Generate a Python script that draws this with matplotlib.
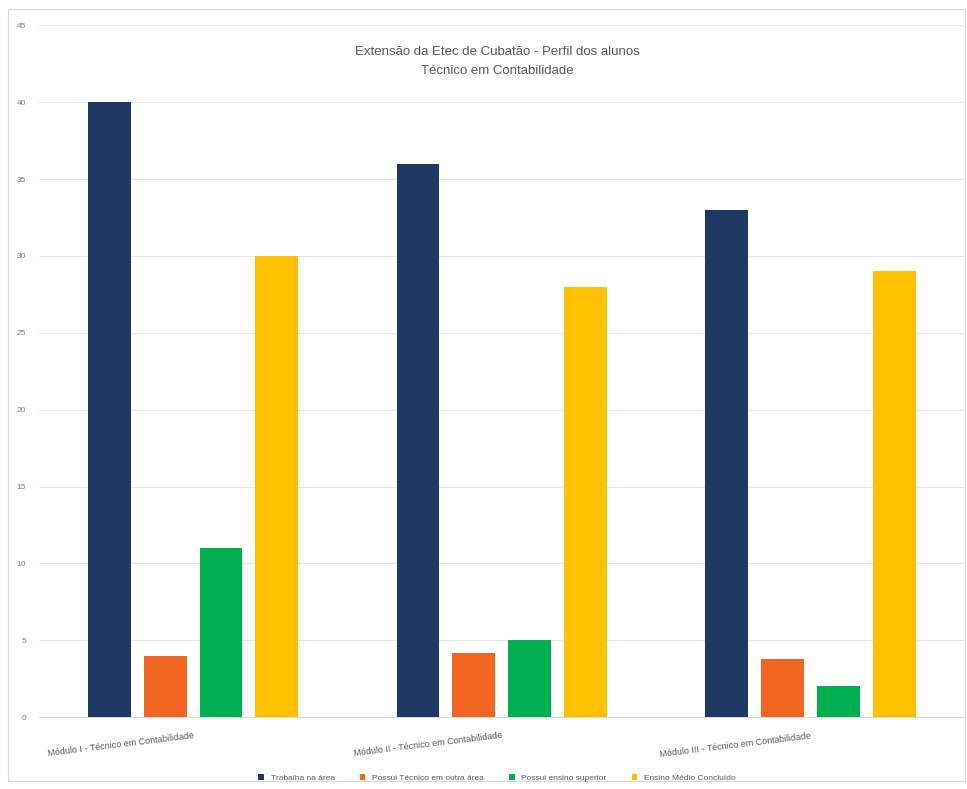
import matplotlib.pyplot as plt
from matplotlib.patches import Rectangle
import numpy as np

plt.rcParams['font.family'] = ['Liberation Sans', 'DejaVu Sans']

categories = ["Módulo I - Técnico em Contabilidade",
              "Módulo II - Técnico em Contabilidade",
              "Módulo III - Técnico em Contabilidade"]
series_names = ["Trabalha na área", "Possui Técnico em outra área",
                "Possui ensino superior", "Ensino Médio Concluído"]
trabalha = [40, 36, 33]
tecnico_outra = [4, 4.2, 3.8]
superior = [11, 5, 2]
ensino_medio = [30, 28, 29]
colors = ["#1F3864", "#F26522", "#00B050", "#FFC000"]

fig = plt.figure(figsize=(9.67, 7.89), dpi=100)
fig.patches.append(Rectangle((0.008, 0.01), 0.99, 0.978, transform=fig.transFigure,
                             fill=False, edgecolor="#d9d9d9", linewidth=0.8))
ax = fig.add_axes([0.040, 0.091, 0.958, 0.877])

x = np.arange(len(categories))
width = 0.139
pitch = 0.181
for i, (vals, name) in enumerate(zip([trabalha, tecnico_outra, superior, ensino_medio], series_names)):
    ax.bar(x + (i - 1.5) * pitch, vals, width, color=colors[i], label=name, zorder=3)

ax.set_xlim(-0.50, 2.50)
ax.set_ylim(0, 45)
ax.set_yticks(range(0, 46, 5))
ax.tick_params(axis='y', labelsize=6, colors="#7f7f7f", length=0, pad=9)
ax.grid(axis='y', color="#e6e6e6", linewidth=0.8, zorder=0)
for s in ax.spines.values():
    s.set_visible(False)
ax.spines['bottom'].set_visible(True)
ax.spines['bottom'].set_color("#d9d9d9")

ax.set_xticks(x)
ax.set_xticklabels(categories, rotation=7, ha='right', rotation_mode='anchor',
                   fontsize=6.5, color="#595959")
ax.tick_params(axis='x', length=0, pad=10)

fig.text(0.514, 0.922, "Extensão da Etec de Cubatão - Perfil dos alunos\nTécnico em Contabilidade",
         ha='center', va='center', fontsize=9.5, color="#595959", linespacing=1.8)

fig.legend(loc='lower center', bbox_to_anchor=(0.514, 0.0), ncol=4, frameon=False,
           fontsize=6, labelcolor="#595959", handlelength=0.7, handleheight=0.7,
           columnspacing=3)

fig.savefig("out.png", dpi=100)
